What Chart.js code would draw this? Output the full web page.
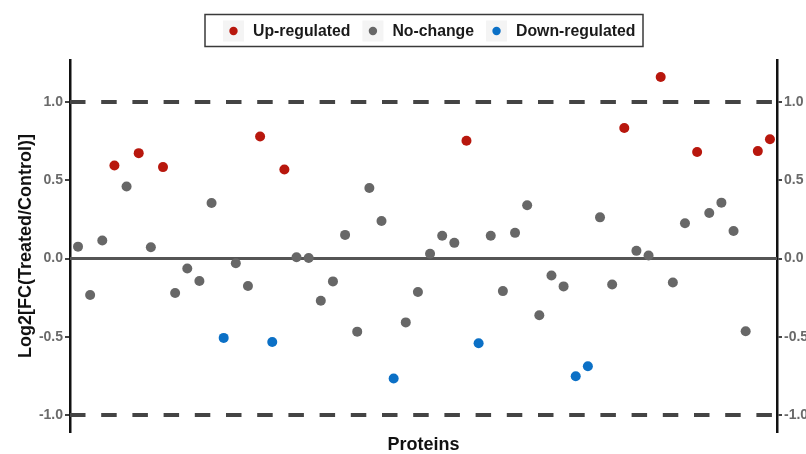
<!DOCTYPE html>
<html>
<head>
<meta charset="utf-8">
<script src="https://cdn.jsdelivr.net/npm/chart.js@4/dist/chart.umd.min.js"></script>
<style>
  html, body { margin: 0; padding: 0; background: #ffffff; }
  #wrap { width: 806px; height: 454px; position: relative; }
</style>
</head>
<body>
<div id="wrap"><canvas id="c" width="806" height="454"></canvas></div>
<script>
// ---- Data ----
const proteins = Array.from({length: 58}, (_, i) => i + 1); // protein index 1..58
const log2FC = [
  0.076, -0.233, 0.115, 0.594, 0.460, 0.673, 0.072, 0.584, -0.220, -0.064,
  -0.144, 0.355, -0.507, -0.030, -0.176, 0.779, -0.533, 0.569, 0.008, 0.003,
  -0.270, -0.146, 0.151, -0.467, 0.450, 0.240, -0.766, -0.408, -0.214, 0.030,
  0.146, 0.100, 0.752, -0.541, 0.146, -0.208, 0.164, 0.340, -0.362, -0.108,
  -0.178, -0.752, -0.688, 0.263, -0.166, 0.834, 0.049, 0.019, 1.159, -0.153,
  0.225, 0.680, 0.291, 0.357, 0.176, -0.465, 0.686, 0.762
];
const status = [
  'N','N','N','U','N','U','N','U','N','N',
  'N','N','D','N','N','U','D','U','N','N',
  'N','N','N','N','N','N','D','N','N','N',
  'N','N','U','D','N','N','N','N','N','N',
  'N','D','D','N','N','U','N','N','U','N',
  'N','U','N','N','N','N','U','U'
];
const groupLabels = ['Up-regulated', 'No-change', 'Down-regulated'];
const groupCodes = ['U', 'N', 'D'];
const groupColors = ['#b8170d', '#676767', '#0b70c6'];
const thresholds = [1.0, -1.0];
const yTicks = [-1.0, -0.5, 0.0, 0.5, 1.0];
const xRange = [0.34, 58.58];
const yRange = [-1.108, 1.268];

// ---- Build datasets ----
const pointSets = groupCodes.map((code, g) => ({
  type: 'scatter',
  label: groupLabels[g],
  data: proteins.map((p, i) => ({x: p, y: log2FC[i], s: status[i]}))
               .filter(d => d.s === code).map(d => ({x: d.x, y: d.y})),
  backgroundColor: groupColors[g],
  borderColor: groupColors[g],
  borderWidth: 0,
  pointRadius: 5,
  pointHoverRadius: 5,
  order: 0
}));
const lineSets = [
  ...thresholds.map(t => ({
    type: 'line', label: '_thr' + t,
    data: [{x: xRange[0], y: t}, {x: xRange[1], y: t}],
    borderColor: '#444444', borderWidth: 4, borderDash: [15.5, 15.7],
    borderCapStyle: 'butt', pointRadius: 0, fill: false, order: 2
  })),
  {
    type: 'line', label: '_zero',
    data: [{x: xRange[0], y: 0}, {x: xRange[1], y: 0}],
    borderColor: '#555555', borderWidth: 3, pointRadius: 0, fill: false, order: 2
  }
];

// ---- Custom boxed legend (ggplot style) ----
const boxLegend = {
  id: 'boxLegend',
  afterDraw(chart) {
    const ctx = chart.ctx;
    ctx.save();
    ctx.font = 'bold 15.8px "Liberation Sans", Arial, sans-serif';
    ctx.textBaseline = 'middle';
    const cy = 31, keyW = 21, keyH = 21;
    let x = 223;
    const items = pointSets.map(ds => ({label: ds.label, color: ds.backgroundColor}));
    ctx.strokeStyle = '#3a3a3a';
    ctx.lineWidth = 1.5;
    ctx.strokeRect(205, 14.5, 438, 32);
    items.forEach((it) => {
      ctx.fillStyle = '#f4f4f4';
      ctx.fillRect(x, cy - keyH / 2, keyW, keyH);
      ctx.fillStyle = it.color;
      ctx.beginPath();
      ctx.arc(x + keyW / 2, cy, 4.2, 0, Math.PI * 2);
      ctx.fill();
      const tx = x + keyW + 9;
      ctx.fillStyle = '#1a1a1a';
      ctx.textAlign = 'left';
      ctx.fillText(it.label, tx, cy + 0.5);
      x = tx + ctx.measureText(it.label).width + 12;
    });
    ctx.restore();
  }
};

const tickFont = {family: '"Liberation Sans", Arial, sans-serif', size: 14, weight: 'bold'};
const yAxisCommon = {
  type: 'linear',
  min: yRange[0], max: yRange[1],
  afterBuildTicks: s => { s.ticks = yTicks.map(v => ({value: v})); },
  ticks: {
    color: '#6a6a6a', font: tickFont, padding: 2,
    callback: v => Number(v).toFixed(1)
  },
  grid: {display: true, drawOnChartArea: false, drawTicks: true, tickLength: 5, color: '#444444', lineWidth: 2},
  border: {display: true, color: '#111111', width: 2.5}
};

new Chart(document.getElementById('c'), {
  data: {datasets: [...pointSets, ...lineSets]},
  options: {
    responsive: false,
    animation: false,
    events: [],
    layout: {padding: {top: 60, left: 0, right: 0, bottom: 0}},
    plugins: {legend: {display: false}, tooltip: {enabled: false}},
    scales: {
      x: {
        type: 'linear', min: xRange[0], max: xRange[1],
        ticks: {display: false},
        grid: {display: false, drawTicks: false},
        border: {display: false},
        title: {
          display: true, text: 'Proteins', color: '#111111',
          font: {family: '"Liberation Sans", Arial, sans-serif', size: 18, weight: 'bold', lineHeight: 1},
          padding: {top: 0, bottom: 0}
        },
        afterFit: s => { s.height = 22; }
      },
      y: {
        ...yAxisCommon,
        position: 'left',
        title: {
          display: true, text: 'Log2[FC(Treated/Control)]', color: '#111111',
          font: {family: '"Liberation Sans", Arial, sans-serif', size: 18, weight: 'bold', lineHeight: 1.2},
          padding: {top: 15, bottom: 0}
        },
        afterFit: s => { s.width = 70; }
      },
      y2: {
        ...yAxisCommon,
        position: 'right',
        afterFit: s => { s.width = 29; }
      }
    }
  },
  plugins: [boxLegend]
});
</script>
</body>
</html>
